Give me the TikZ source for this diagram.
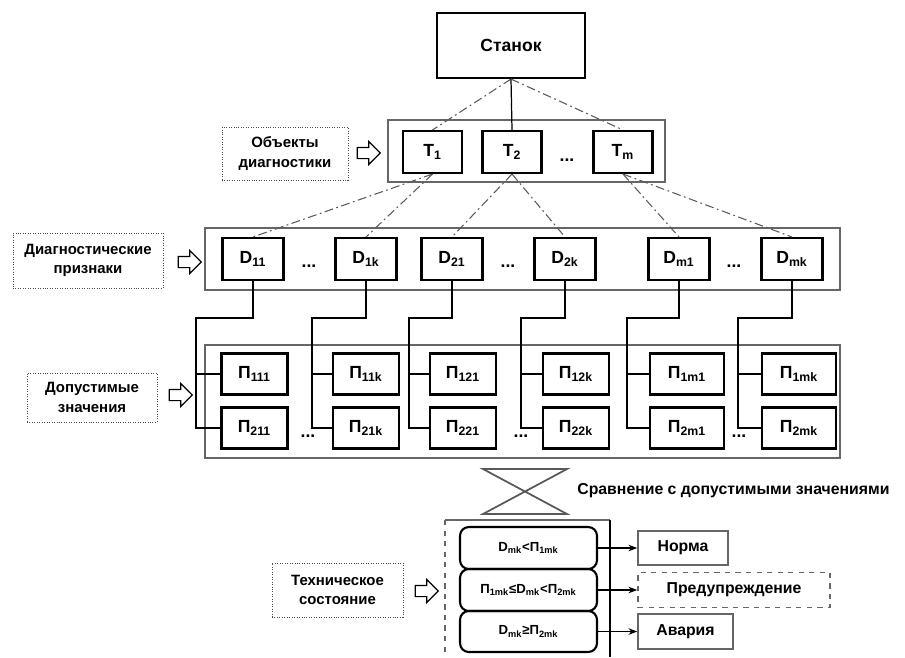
\documentclass[tikz,border=0pt]{standalone}
\usepackage{fontspec}
\setmainfont{Liberation Sans}
\usetikzlibrary{shapes.arrows,arrows.meta}

\newcommand{\ind}[2]{#1\textsubscript{#2}}

\begin{document}
\begin{tikzpicture}
	[x=0.02cm, y=-0.02cm,
	 elem/.style={draw, line width=1.2pt, fill=white, inner sep=0pt, minimum width=1.22cm, minimum height=0.84cm, font=\bfseries\fontsize{10}{12}\selectfont},
	 group/.style={draw=gray!80!black, line width=0.8pt, inner sep=0pt},
	 sign/.style={draw=black!70, densely dotted, inner sep=0pt, align=center, font=\bfseries\fontsize{8.5}{11}\selectfont},
	 pointer/.style={single arrow, draw, fill=white, line width=0.7pt, inner sep=0.1cm, minimum height=0.46cm, single arrow head extend=0.12cm},
	 link/.style={draw=gray!70!black, line width=0.6pt, dash pattern=on 5pt off 2pt on 1pt off 2pt},
	 wire/.style={draw, line width=0.7pt},
	 ellip/.style={inner sep=0pt, font=\bfseries\fontsize{10}{12}\selectfont},
	 cond/.style={draw, line width=1.2pt, rounded corners=5pt, inner sep=0pt, minimum width=2.74cm, minimum height=0.84cm, font=\bfseries\fontsize{7.5}{9}\selectfont},
	 result/.style={draw=gray!80!black, line width=0.9pt, inner sep=0pt, minimum height=0.68cm, font=\bfseries\fontsize{9}{11}\selectfont}]
	\useasboundingbox (0,0) rectangle (905,657);

	% top: machine and objects
	\node[elem, minimum width=2.96cm, minimum height=1.3cm] (stanok) at (511,45.5) {Станок};
	\node[group, minimum width=5.54cm, minimum height=1.24cm] (tgroup) at (526.5,151) {};
	\node[elem, minimum width=1.18cm] (t1) at (432.5,152) {\ind{T}{1}};
	\node[elem, minimum width=1.18cm] (t2) at (512,152) {\ind{T}{2}};
	\node[elem, minimum width=1.18cm] (tm) at (623,152) {\ind{T}{m}};
	\node[ellip] (tdots) at (567,160) {...};
	\node[sign, minimum width=2.52cm, minimum height=1.06cm] (objlbl) at (285,153.5) {Объекты\\диагностики};
	\node[pointer] (objarr) at (366,153) {};

	% diagnostic features
	\node[group, minimum width=12.7cm, minimum height=1.24cm] (dgroup) at (522.5,259) {};
	\node[elem] (d11) at (253,259) {\ind{D}{11}};
	\node[elem] (d1k) at (366,259) {\ind{D}{1k}};
	\node[elem] (d21) at (452,259) {\ind{D}{21}};
	\node[elem] (d2k) at (565,259) {\ind{D}{2k}};
	\node[elem] (dm1) at (679,259) {\ind{D}{m1}};
	\node[elem] (dmk) at (792,259) {\ind{D}{mk}};
	\node[ellip] (ddots1) at (309,266) {...};
	\node[ellip] (ddots2) at (508,266) {...};
	\node[ellip] (ddots3) at (734,266) {...};
	\node[sign, minimum width=3.0cm, minimum height=1.1cm] (diaglbl) at (88,260.5) {Диагностические\\признаки};
	\node[pointer] (diagarr) at (187,262) {};

	% allowed values
	\node[group, minimum width=12.7cm, minimum height=2.26cm] (pgroup) at (522.5,401.5) {};
	\node[elem, minimum width=1.32cm, minimum height=0.82cm] (p111) at (254.5,374) {\ind{П}{111}};
	\node[elem, minimum width=1.32cm, minimum height=0.82cm] (p11k) at (366,374) {\ind{П}{11k}};
	\node[elem, minimum width=1.32cm, minimum height=0.82cm] (p121) at (463,374) {\ind{П}{121}};
	\node[elem, minimum width=1.32cm, minimum height=0.82cm] (p12k) at (576,374) {\ind{П}{12k}};
	\node[elem, minimum width=1.48cm, minimum height=0.82cm] (p1m1) at (687,374) {\ind{П}{1m1}};
	\node[elem, minimum width=1.48cm, minimum height=0.82cm] (p1mk) at (799,374) {\ind{П}{1mk}};
	\node[elem, minimum width=1.32cm, minimum height=0.82cm] (p211) at (254.5,428) {\ind{П}{211}};
	\node[elem, minimum width=1.32cm, minimum height=0.82cm] (p21k) at (366,428) {\ind{П}{21k}};
	\node[elem, minimum width=1.32cm, minimum height=0.82cm] (p221) at (463,428) {\ind{П}{221}};
	\node[elem, minimum width=1.32cm, minimum height=0.82cm] (p22k) at (576,428) {\ind{П}{22k}};
	\node[elem, minimum width=1.48cm, minimum height=0.82cm] (p2m1) at (687,428) {\ind{П}{2m1}};
	\node[elem, minimum width=1.48cm, minimum height=0.82cm] (p2mk) at (799,428) {\ind{П}{2mk}};
	\node[ellip] (pdots1) at (308,436) {...};
	\node[ellip] (pdots2) at (521,436) {...};
	\node[ellip] (pdots3) at (739,436) {...};
	\node[sign, minimum width=2.6cm, minimum height=0.98cm] (doplbl) at (92,397.5) {Допустимые\\значения};
	\node[pointer] (doparr) at (178,395) {};

	% comparison
	\draw[draw=gray!70!black, line width=1pt] (483,469) -- (567,469) -- (483,514) -- (567,514) -- cycle;
	\node[anchor=west, inner sep=0pt, font=\bfseries\fontsize{9}{11}\selectfont] (cmplbl) at (577,491) {Сравнение с допустимыми значениями};

	% technical state
	\draw[group] (445,520) -- (610,520);
	\draw[wire, line width=1pt] (610,520) -- (610,657);
	\draw[group, dashed] (445,520) -- (445,657);
	\node[cond] (s1) at (528.5,548) {\ind{D}{mk}<\ind{П}{1mk}};
	\node[cond] (s2) at (528.5,590) {\ind{П}{1mk}≤\ind{D}{mk}<\ind{П}{2mk}};
	\node[cond, minimum height=0.82cm] (s3) at (528.5,631.5) {\ind{D}{mk}≥\ind{П}{2mk}};
	\node[result, minimum width=1.8cm] (norma) at (683,548) {Норма};
	\node[result, minimum width=3.84cm, minimum height=0.7cm, dashed] (warn) at (734,590) {Предупреждение};
	\node[result, minimum width=1.9cm, minimum height=0.7cm] (avar) at (685.5,631.5) {Авария};
	\node[sign, minimum width=2.62cm, minimum height=1.08cm] (techlbl) at (337.5,590) {Техническое\\состояние};
	\node[pointer] (techarr) at (424,591) {};

	\draw[link] (stanok.south) -- (t1.north);
	\draw[wire] (stanok.south) -- (t2.north);
	\draw[link] (stanok.south) -- (tm.north);

	\draw[link] (t1.south) -- (d11.north);
	\draw[link] (t1.south) -- (d1k.north);
	\draw[link] (t2.south) -- (d21.north);
	\draw[link] (t2.south) -- (d2k.north);
	\draw[link] (tm.south) -- (dm1.north);
	\draw[link] (tm.south) -- (dmk.north);

	\coordinate (b1) at (196,318);
	\coordinate (b2) at (312,318);
	\coordinate (b3) at (409,318);
	\coordinate (b4) at (521,318);
	\coordinate (b5) at (627,318);
	\coordinate (b6) at (738,318);
	\draw[wire] (d11.south) |- (b1) |- (p211.west);
	\draw[wire] (b1 |- p111.west) -- (p111.west);
	\draw[wire] (d1k.south) |- (b2) |- (p21k.west);
	\draw[wire] (b2 |- p11k.west) -- (p11k.west);
	\draw[wire] (d21.south) |- (b3) |- (p221.west);
	\draw[wire] (b3 |- p121.west) -- (p121.west);
	\draw[wire] (d2k.south) |- (b4) |- (p22k.west);
	\draw[wire] (b4 |- p12k.west) -- (p12k.west);
	\draw[wire] (dm1.south) |- (b5) |- (p2m1.west);
	\draw[wire] (b5 |- p1m1.west) -- (p1m1.west);
	\draw[wire] (dmk.south) |- (b6) |- (p2mk.west);
	\draw[wire] (b6 |- p1mk.west) -- (p1mk.west);

	\draw[wire, -{Stealth[length=5pt]}] (s1.east) -- (norma.west);
	\draw[wire, -{Stealth[length=5pt]}] (s2.east) -- (warn.west);
	\draw[wire, -{Stealth[length=5pt]}] (s3.east) -- (avar.west);
\end{tikzpicture}
\end{document}
